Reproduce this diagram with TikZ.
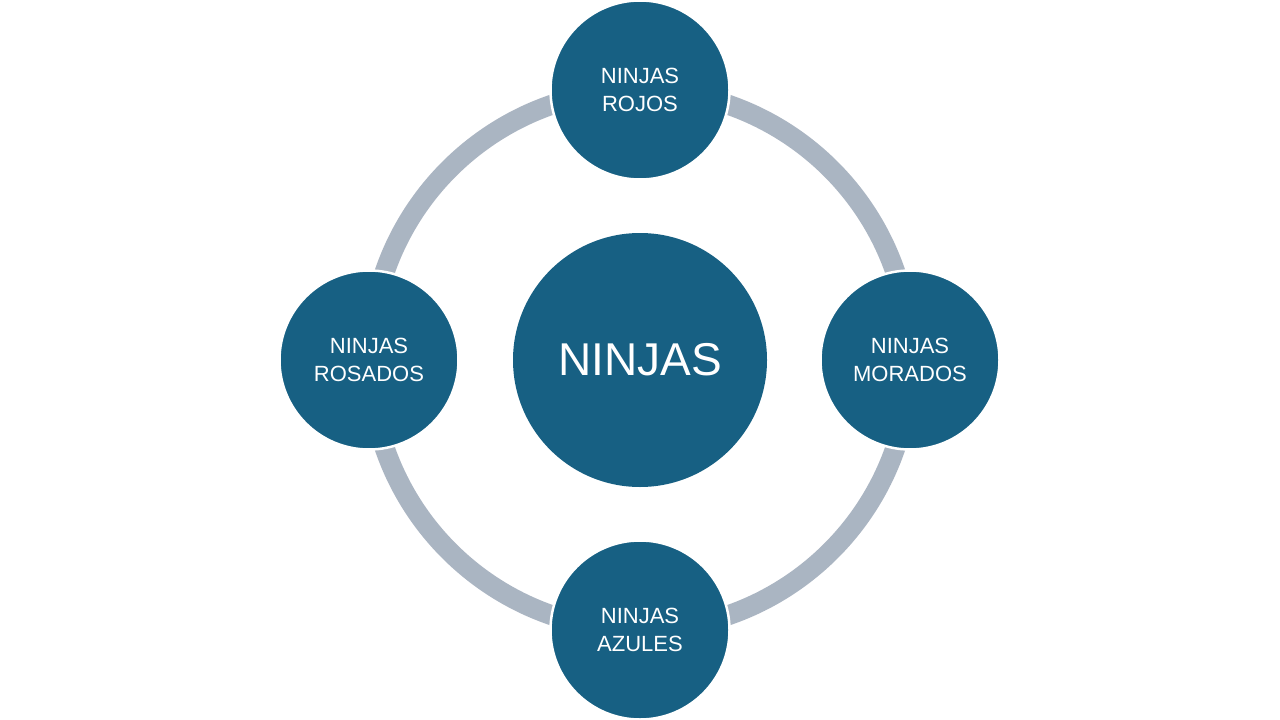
\documentclass[tikz,border=0pt]{standalone}
\usepackage{fontspec}
\setmainfont{Liberation Sans}
\definecolor{ninjablue}{RGB}{23,96,131}
\definecolor{ringgray}{RGB}{170,181,194}
\begin{document}
\begin{tikzpicture}[x=1pt,y=-1pt,
  sat/.style={circle,fill=ninjablue,draw=white,line width=2.5pt,minimum size=179pt,inner sep=0pt,
    text=white,align=center,font=\fontsize{22}{28}\selectfont},
  hub/.style={circle,fill=ninjablue,minimum size=254pt,inner sep=0pt,text=white,
    font=\fontsize{46}{50}\selectfont},
  ring/.style={draw=ringgray,line width=20pt}]
\useasboundingbox[fill=white] (0,0) rectangle (1280,720);
\coordinate (o) at (640,360);
\draw[ring] (o) circle[radius=270];
\node[hub] (c) at (640,360) {NINJAS};
\node[sat] (top) at (640,90) {NINJAS\\ROJOS};
\node[sat] (right) at (910,360) {NINJAS\\MORADOS};
\node[sat] (bottom) at (640,630) {NINJAS\\AZULES};
\node[sat] (left) at (369,360) {NINJAS\\ROSADOS};
\end{tikzpicture}
\end{document}
